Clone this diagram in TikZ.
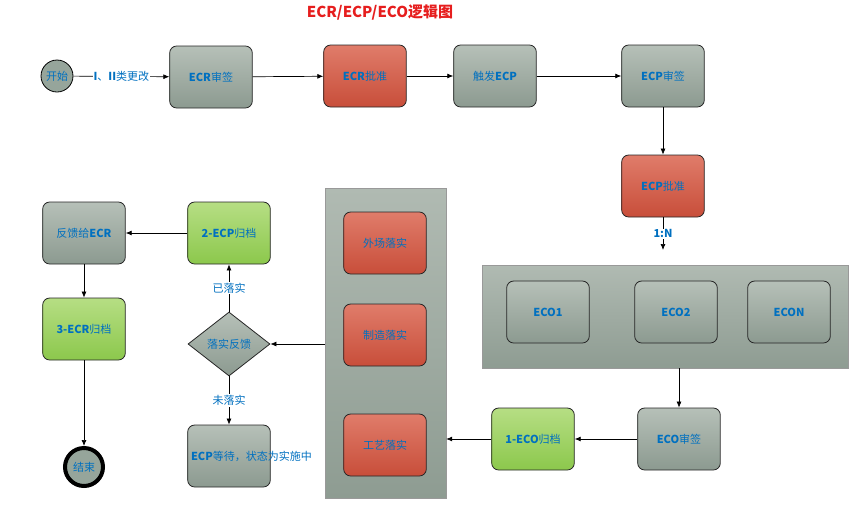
\documentclass[tikz,border=0pt]{standalone}
\usepackage{fontspec}
\setmainfont{Noto Sans CJK SC}
\usetikzlibrary{shapes.geometric,arrows.meta}
\definecolor{tblue}{RGB}{0,112,192}
\tikzset{
 x=1pt,y=-1pt,
 box/.style={draw=black!85,line width=0.8pt,rounded corners=7pt,minimum width=80pt,minimum height=62pt,text=tblue,font=\fontsize{11}{13}\selectfont,align=center,text width=76pt},
 gray/.style={box,top color={rgb,255:red,182;green,192;blue,184},bottom color={rgb,255:red,140;green,154;blue,144}},
 red/.style={box,top color={rgb,255:red,224;green,124;blue,106},bottom color={rgb,255:red,200;green,78;blue,58}},
 green/.style={box,top color={rgb,255:red,182;green,222;blue,132},bottom color={rgb,255:red,140;green,200;blue,76}},
 panel/.style={draw=black!40,top color={rgb,255:red,176;green,186;blue,178},bottom color={rgb,255:red,142;green,156;blue,146}},
 arr/.style={-{Latex[length=6pt,width=5pt]},line width=0.7pt},
 lbl/.style={text=tblue,font=\fontsize{11}{13}\selectfont,fill=white,inner sep=1pt}
}
\begin{document}
\begin{tikzpicture}
\useasboundingbox (0,0) rectangle (859,515);
\node[text={rgb,255:red,230;green,30;blue,30},font=\fontsize{15}{18}\selectfont\bfseries] (title) at (380,12) {ECR/ECP/ECO逻辑图};
\node[panel,minimum width=366pt,minimum height=103pt] (p1) at (665,316.5) {};
\node[panel,minimum width=121pt,minimum height=310pt] (p2) at (385.5,343) {};
\node[circle,draw,line width=0.8pt,minimum size=32pt,inner sep=0pt,fill={rgb,255:red,150;green,165;blue,155},text=tblue,font=\fontsize{11}{13}\selectfont] (start) at (57,76) {开始};
\node[gray] (ecrs) at (211,77) {\textbf{ECR}审签};
\node[red] (ecrp) at (365,76) {\textbf{ECR}批准};
\node[gray] (trig) at (495,76) {触发\textbf{ECP}};
\node[gray] (ecps) at (663,76) {\textbf{ECP}审签};
\node[red] (ecpp) at (663,186) {\textbf{ECP}批准};
\node[gray] (eco1) at (548,312) {\textbf{ECO1}};
\node[gray] (eco2) at (676,312) {\textbf{ECO2}};
\node[gray] (econ) at (789,312) {\textbf{ECON}};
\node[gray] (ecos) at (679,439) {\textbf{ECO}审签};
\node[green] (eco1a) at (533,439) {\textbf{1-ECO}归档};
\node[red] (w) at (385,243) {外场落实};
\node[red] (z) at (385,335) {制造落实};
\node[red] (g) at (385,445) {工艺落实};
\node[diamond,draw=black!85,line width=0.8pt,minimum width=82pt,minimum height=64pt,inner sep=0pt,top color={rgb,255:red,182;green,192;blue,184},bottom color={rgb,255:red,140;green,154;blue,144},text=tblue,font=\fontsize{11}{13}\selectfont] (d) at (229,344) {落实反馈};
\node[green] (ecp2) at (229,233) {\textbf{2-ECP}归档};
\node[gray] (fb) at (84,233) {反馈给\textbf{ECR}};
\node[green] (ecr3) at (84,329) {\textbf{3-ECR}归档};
\node[gray] (wait) at (229,456) {\textbf{ECP}等待，状态为实施中};
\node[circle,draw,line width=4pt,minimum size=38pt,inner sep=0pt,fill={rgb,255:red,150;green,165;blue,155},text=tblue,font=\fontsize{11}{13}\selectfont] (end) at (84,467) {结束};
\coordinate (nend) at (663,250);
\draw[arr] (start) -- node[lbl]{\textbf{I}、\textbf{II}类更改} (ecrs);
\draw[arr] (ecrs) -- (ecrp);
\draw[arr] (ecrp) -- (trig);
\draw[arr] (trig) -- (ecps);
\draw[arr] (ecps) -- (ecpp);
\draw[arr] (ecpp) -- node[lbl]{\textbf{1:N}} (nend);
\draw[arr] (p1.south -| ecos) -- (ecos);
\draw[arr] (ecos) -- (eco1a);
\draw[arr] (eco1a) -- (eco1a -| p2.east);
\draw[arr] (p2.west |- d) -- (d);
\draw[arr] (d) -- node[lbl]{已落实} (ecp2);
\draw[arr] (d) -- node[lbl]{未落实} (wait);
\draw[arr] (ecp2) -- (fb);
\draw[arr] (fb) -- (ecr3);
\draw[arr] (ecr3) -- (end);
\end{tikzpicture}
\end{document}
